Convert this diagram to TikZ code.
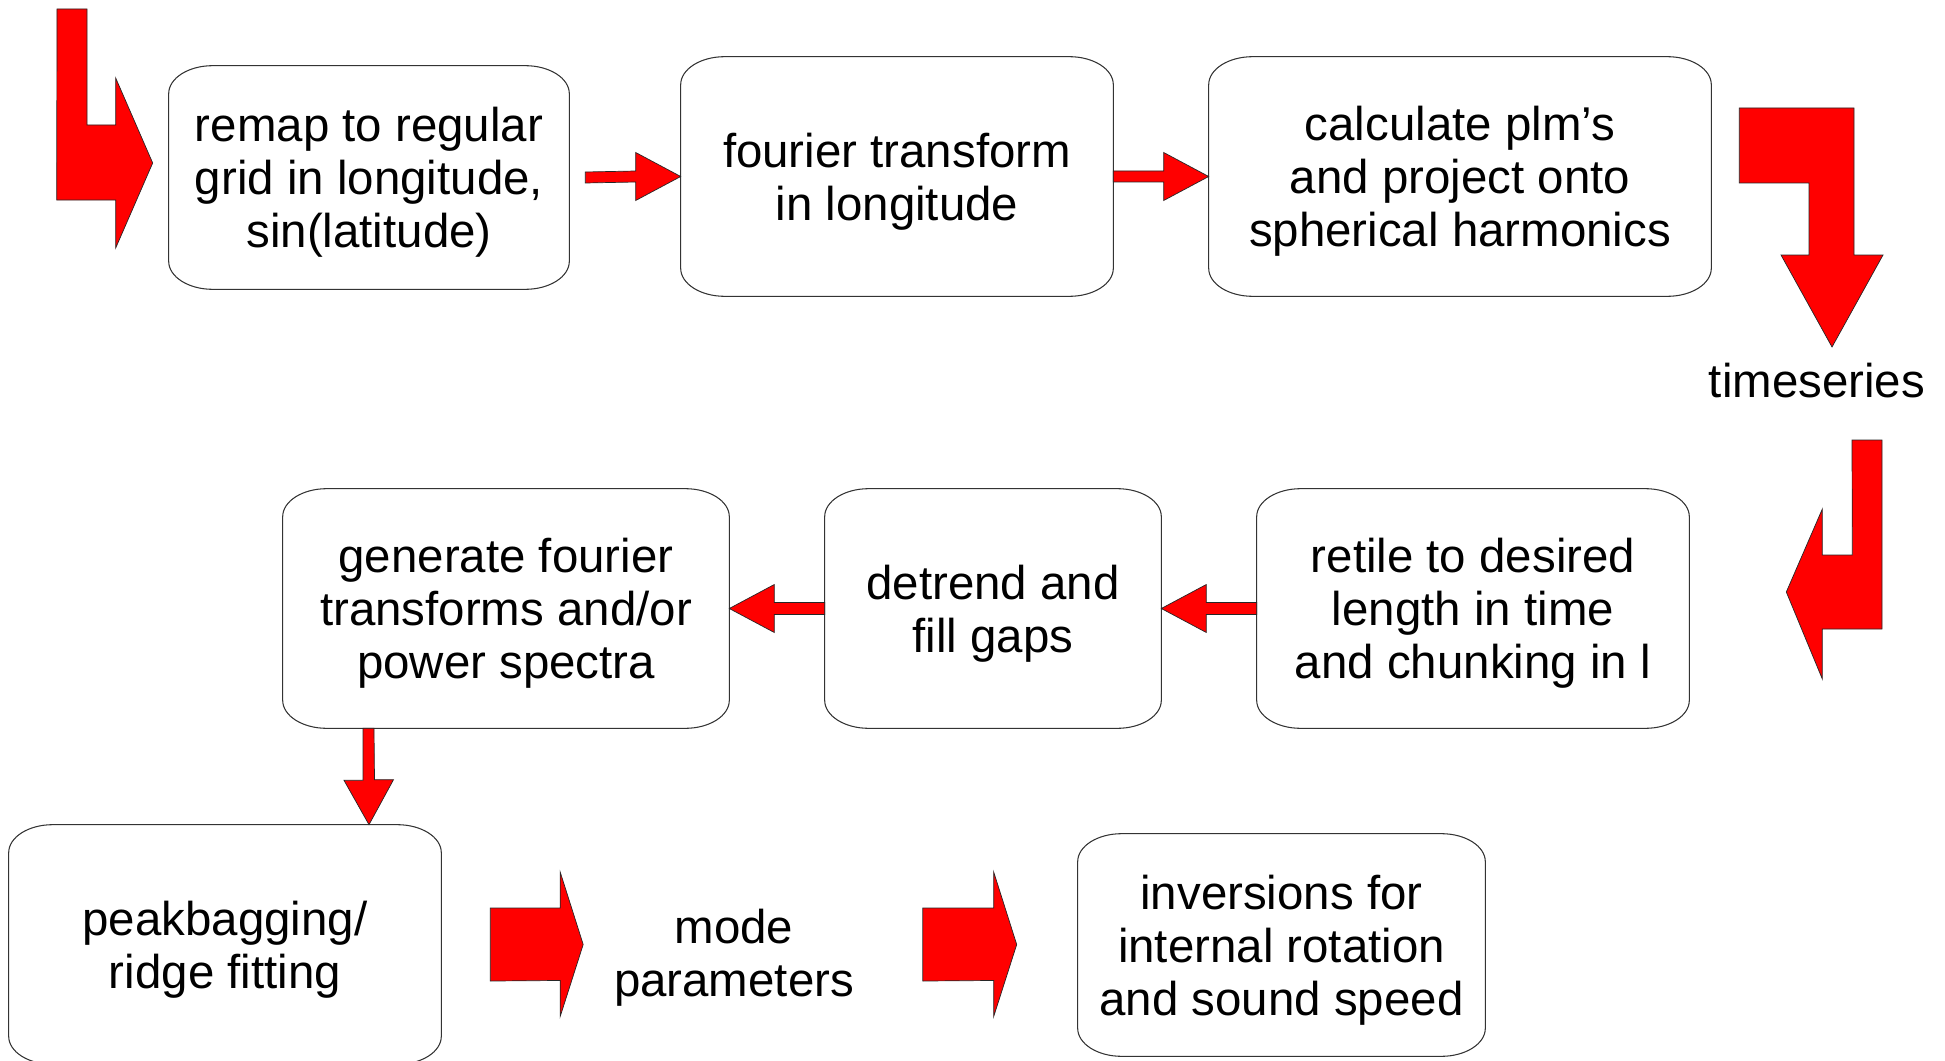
\documentclass[tikz,border=0pt]{standalone}
\usepackage{fontspec}
\setmainfont{Liberation Sans}
\usetikzlibrary{calc}

\tikzset{
    box/.style={align=center, inner sep=0pt, text depth=0pt, font=\fontsize{27}{30.2}\selectfont},
    outline/.style={draw=black!80, line width=0.6pt},
    plaintext/.style={align=center, inner sep=0pt, font=\fontsize{27}{30.2}\selectfont},
    redarrow/.style={fill=red, draw=black!85, line width=0.4pt},
}

\begin{document}
\begin{tikzpicture}[x=0.02cm, y=-0.02cm]
        \useasboundingbox (0,0) rectangle (1945,1061);
        \def\rx{44}
        \def\ry{28}

        % first row
        \node[box, minimum width=8cm, minimum height=4.46cm] (remap) at (369,177.5) {remap to regular\\grid in longitude,\\sin(latitude)};
        \node[box, minimum width=8.64cm, minimum height=4.78cm] (fourier) at (897,176.5) {fourier transform\\in longitude};
        \node[box, minimum width=10.04cm, minimum height=4.78cm] (plm) at (1460,176.5) {calculate plm’s\\and project onto\\spherical harmonics};
        \node[plaintext] (ts) at (1817,381) {timeseries};

        % second row
        \node[box, minimum width=8.64cm, minimum height=4.78cm] (retile) at (1473,608.5) {retile to desired\\length in time\\and chunking in l};
        \node[box, minimum width=6.72cm, minimum height=4.78cm] (detrend) at (993,608.5) {detrend and\\fill gaps};
        \node[box, minimum width=8.92cm, minimum height=4.78cm] (generate) at (506,608.5) {generate fourier\\transforms and/or\\power spectra};

        % third row
        \node[box, minimum width=8.64cm, minimum height=4.78cm] (peak) at (225,944.5) {peakbagging/\\ridge fitting};
        \node[plaintext] (mode) at (734,957.5) {mode\\parameters};
        \node[box, minimum width=8.14cm, minimum height=4.44cm] (inv) at (1281.5,945) {inversions for\\internal rotation\\and sound speed};

        \foreach \n in {remap, fourier, plm, retile, detrend, generate, peak, inv} {
            \draw[outline] ($(\n.north west)+(\rx,0)$) -- ($(\n.north east)+(-\rx,0)$)
                arc[start angle=-90, end angle=0, x radius=\rx, y radius=\ry] -- ($(\n.south east)+(0,-\ry)$)
                arc[start angle=0, end angle=90, x radius=\rx, y radius=\ry] -- ($(\n.south west)+(\rx,0)$)
                arc[start angle=90, end angle=180, x radius=\rx, y radius=\ry] -- ($(\n.north west)+(0,\ry)$)
                arc[start angle=180, end angle=270, x radius=\rx, y radius=\ry] -- cycle;
        }

        \coordinate (in) at (57,9);
        \coordinate (dtip) at ($(generate.south)+(-137,0)$);

        \draw[redarrow] (in) -- ++(30,0) |- ($(remap.west)+(-53,-52.5)$) -- ++(0,-47) -- ($(remap.west)+(-16,-14.5)$)
            -- ++(-37,85) -- ++(0,-48) -- ++(-59,0) -- cycle;

        \foreach \a/\b/\g in {remap/fourier/16, fourier/plm/0} {
            \draw[redarrow] ($(\a.east)+(\g,-5.5)$) -- ($(\b.west)+(-45,-5.5)$) -- ++(0,-18.5) -- (\b.west)
                -- ($(\b.west)+(-45,24)$) -- ++(0,-18.5) -- ($(\a.east)+(\g,5.5)$) -- cycle;
        }

        \draw[redarrow] ($(plm.east)+(28,-68.5)$) -| ($(ts)+(37,-126)$) -- ++(29,0) -- ($(ts)+(15,-34)$)
            -- ++(-51,-92) -- ++(28,0) |- ($(plm.east)+(28,6.5)$) -- cycle;

        \draw[redarrow] ($(ts)+(35,59)$) -- ++(30,0) |- ($(retile.east)+(133,20.5)$) -- ++(0,50) -- ($(retile.east)+(97,-16.5)$)
            -- ++(36,-83) -- ++(0,46) -- ++(30,0) -- cycle;

        \foreach \a/\b in {retile/detrend, detrend/generate} {
            \draw[redarrow] ($(\a.west)+(0,-6)$) -- ($(\b.east)+(45,-6)$) -- ++(0,-18) -- (\b.east)
                -- ($(\b.east)+(45,24)$) -- ++(0,-18) -- ($(\a.west)+(0,6)$) -- cycle;
        }

        \draw[redarrow] ($(generate.south)+(-143,0)$) -- ++(0,52) -- ++(-19,0) -- (dtip |- peak.north)
            -- ++(24.5,-45) -- ++(-19,0) -- ($(generate.south)+(-132,0)$) -- cycle;

        \foreach \a/\b/\s/\t in {peak/mode/49/-30.5, mode/inv/68.5/-61} {
            \draw[redarrow] ($(\a.east |- peak.east)+(\s,-36.5)$) -- ($(\b.west |- peak.east)+({\t-23},-36.5)$) -- ++(0,-36)
                -- ($(\b.west |- peak.east)+(\t,0)$) -- ($(\b.west |- peak.east)+({\t-23},72)$) -- ++(0,-36)
                -- ($(\a.east |- peak.east)+(\s,36.5)$) -- cycle;
        }
\end{tikzpicture}
\end{document}
